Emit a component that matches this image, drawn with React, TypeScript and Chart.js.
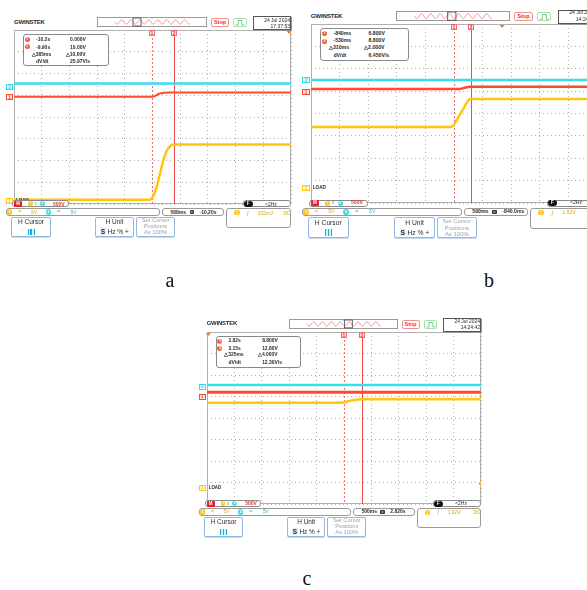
import React, { useEffect, useRef } from "react";
import { Chart, registerables } from "chart.js";

Chart.register(...registerables);

const CYAN = "#38DDEC";
const RED = "#FF4A2C";
const YELLOW = "#FFC50F";
const CURSOR = "#F26B6B";
const CURSOR2 = "#F04A4A";

// ---------- data: x in horizontal divisions (0..10), y in vertical divisions (0..8) ----------
// panel a
const aCyanX = [0, 10];
const aCyanY = [5.54, 5.54];
const aRedX = [0, 4.98, 5.27, 5.63, 10];
const aRedY = [4.93, 4.93, 5.08, 5.13, 5.13];
const aYellowX = [0, 4.9, 5.0, 5.15, 5.27, 5.39, 5.5, 5.57, 5.66, 5.75, 10];
const aYellowY = [0.2, 0.2, 0.3, 0.78, 1.4, 2.01, 2.4, 2.56, 2.68, 2.73, 2.73];
const aCursors = [4.98, 5.78];
const aTimes = ["-10.2s", "-9.90s", "△385ms"];
const aVolts = ["0.000V", "10.00V", "△10.00V"];
const aSlope = "25.97V/s";
const aDate = ["24 Jul 2024", "17:37:53"];
const aPos = "-10.20s";
const aTrig = "332mV";

// panel b
const bCyanX = [0, 10];
const bCyanY = [5.5, 5.5];
const bRedX = [0, 5.22, 5.4, 5.57, 10];
const bRedY = [5.1, 5.1, 5.16, 5.19, 5.19];
const bYellowX = [0, 4.88, 4.98, 5.1, 5.22, 5.34, 5.44, 5.51, 5.6, 10];
const bYellowY = [3.4, 3.4, 3.46, 3.71, 3.98, 4.24, 4.47, 4.6, 4.65, 4.65];
const bCursors = [5.01, 5.61];
const bTimes = ["-840ms", "-530ms", "△310ms"];
const bVolts = ["6.800V", "8.800V", "△2.000V"];
const bSlope = "6.450V/s";
const bDate = ["24 Jul 2024", "14:24:42"];
const bPos = "-840.0ms";
const bTrig = "1.92V";

// panel c
const cCyanX = [0, 10];
const cCyanY = [5.53, 5.53];
const cRedX = [0, 10];
const cRedY = [5.2, 5.2];
const cYellowX = [0, 4.9, 5.1, 5.3, 5.5, 5.66, 10];
const cYellowY = [4.71, 4.71, 4.76, 4.82, 4.86, 4.87, 4.87];
const cCursors = [4.99, 5.66];
const cTimes = ["2.82s", "3.15s", "△325ms"];
const cVolts = ["8.800V", "12.80V", "△4.000V"];
const cSlope = "12.30V/s";
const cDate = ["24 Jul 2024", "14:24:42"];
const cPos = "2.820s";
const cTrig = "1.92V";

type Trace = { xs: number[]; ys: number[]; color: string; width: number };
type Cfg = {
  gl: number; gt: number; s: number;
  traces: Trace[]; cursors: number[];
  trigX: number; trigLevel?: number;
  cyanLabel: number; redLabel: number; ground: number;
  times: string[]; volts: string[]; slope: string;
  date: string[]; pos: string; trig: string;
  sq: number;
};

const decoPlugin: any = {
  id: "scopeDeco",
  beforeDatasetsDraw(chart: any, _a: any, opts: any) {
    const { ctx, chartArea: a, scales } = chart;
    const x = scales.x;
    ctx.save();
    ctx.strokeStyle = "#B0B0B0";
    ctx.lineWidth = 1;
    ctx.strokeRect(Math.round(a.left) + 0.5, Math.round(a.top) + 0.5, Math.round(a.right - a.left) - 1, Math.round(a.bottom - a.top) - 1);
    (opts.cursors || []).forEach((c: number, i: number) => {
      const px = Math.round(x.getPixelForValue(c)) + 0.5;
      ctx.beginPath();
      ctx.setLineDash(i === 0 ? [2, 2] : []);
      ctx.strokeStyle = i === 0 ? CURSOR : CURSOR2;
      ctx.lineWidth = 1;
      ctx.moveTo(px, a.top);
      ctx.lineTo(px, a.bottom);
      ctx.stroke();
    });
    ctx.restore();
  },
  afterDatasetsDraw(chart: any, _a: any, opts: any) {
    const { ctx, chartArea: a, scales } = chart;
    const x = scales.x;
    const y = scales.y;
    ctx.save();
    (opts.cursors || []).forEach((c: number, i: number) => {
      const px = Math.round(x.getPixelForValue(c));
      ctx.fillStyle = "#FFE6E0";
      ctx.fillRect(px - 3, a.top, 6, 6);
      ctx.strokeStyle = CURSOR;
      ctx.lineWidth = 1;
      ctx.strokeRect(px - 2.5, a.top + 0.5, 5, 5);
      ctx.fillStyle = "#E83020";
      ctx.font = "bold 5px 'Liberation Sans'";
      ctx.textAlign = "center";
      ctx.textBaseline = "middle";
      ctx.fillText(String(i + 1), px, a.top + 3.3);
    });
    if (opts.trigX !== undefined) {
      const px = x.getPixelForValue(opts.trigX);
      ctx.fillStyle = "#FF7A10";
      ctx.beginPath();
      ctx.moveTo(px - 2.5, a.top + 1);
      ctx.lineTo(px + 2.5, a.top + 1);
      ctx.lineTo(px, a.top + 4);
      ctx.closePath();
      ctx.fill();
    }
    if (opts.trigLevel !== undefined) {
      const py = y.getPixelForValue(opts.trigLevel);
      ctx.fillStyle = YELLOW;
      ctx.beginPath();
      ctx.moveTo(a.right, py - 2.5);
      ctx.lineTo(a.right, py + 2.5);
      ctx.lineTo(a.right - 3, py);
      ctx.closePath();
      ctx.fill();
    }
    ctx.restore();
  },
};

function Panel({ c }: { c: Cfg }) {
  const ref = useRef<HTMLCanvasElement | null>(null);
  const PAD = 2;
  const s = c.s;
  const W = Math.round(277 * s);
  const H = Math.round(173.6 * s);

  useEffect(() => {
    const datasets = c.traces.map((t) => ({
      data: t.xs.map((x, i) => ({ x, y: t.ys[i] })),
      borderColor: t.color,
      borderWidth: t.width,
      pointRadius: 0,
      fill: false,
      tension: 0.4,
      cubicInterpolationMode: "monotone" as const,
    }));
    const axis = (max: number) => ({
      type: "linear" as const,
      min: 0,
      max,
      ticks: { display: false, stepSize: 1, autoSkip: false },
      grid: { color: "#AFAFAF", drawTicks: false, lineWidth: 1 },
      border: { display: false, dash: [1, 3] },
    });
    const chart = new Chart(ref.current as HTMLCanvasElement, {
      type: "line",
      data: { datasets } as any,
      options: {
        animation: false,
        responsive: false,
        maintainAspectRatio: false,
        layout: { padding: PAD },
        plugins: {
          legend: { display: false },
          tooltip: { enabled: false },
          scopeDeco: { cursors: c.cursors, trigX: c.trigX, trigLevel: c.trigLevel },
        } as any,
        scales: { x: axis(10), y: axis(8) } as any,
      },
      plugins: [decoPlugin],
    });
    return () => chart.destroy();
  }, []);

  const X = (r: number) => c.gl + r * s;
  const Y = (r: number) => c.gt + r * s;
  const ry = (v: number) => (8 - v) * 21.7;
  const box = (x0: number, x1: number, y0: number, y1: number, extra: React.CSSProperties = {}): React.CSSProperties => ({
    position: "absolute", left: X(x0), top: Y(y0), width: (x1 - x0) * s, height: (y1 - y0) * s,
    boxSizing: "border-box", ...extra,
  });
  const txt = (x: number, yc: number, size: number, extra: React.CSSProperties = {}): React.CSSProperties => ({
    position: "absolute", left: X(x), top: Y(yc), transform: "translateY(-50%)", fontSize: size * s,
    lineHeight: 1, whiteSpace: "nowrap", ...extra,
  });
  const badge = (key: string, x: number, yc: number, d: number, bg: string, fg: string, t: string) => (
    <div key={key} style={{
      position: "absolute", left: X(x - d / 2), top: Y(yc - d / 2), width: d * s, height: d * s,
      borderRadius: "50%", background: bg, color: fg, fontSize: (d - 1.5) * s, lineHeight: `${d * s}px`,
      textAlign: "center", fontWeight: 700,
    }}>{t}</div>
  );
  const tag = (key: string, yc: number, col: string, bg: string, t: string) => (
    <div key={key} style={{
      ...box(-8, -1, yc - 3, yc + 3),
      border: `1px solid ${col}`, background: bg, color: col, fontSize: 5 * s, lineHeight: `${4 * s}px`,
      textAlign: "center", fontWeight: 700,
    }}>{t}</div>
  );

  // decorative zigzag in the top memory bar
  let wave = "";
  for (let k = 0; k <= 150; k++) {
    const xx = 18 + k * 0.5;
    const yy = 5 + 2.2 * Math.sin((k * 0.5 * 2 * Math.PI) / 9);
    wave += `${k === 0 ? "M" : "L"}${xx.toFixed(2)},${yy.toFixed(2)} `;
  }

  const dark = "#2A2A2A";
  const yTxt = "#E0A800";
  const cTxt = "#2BB8DA";
  const btn: React.CSSProperties = { border: "1px solid #93B9E2", borderRadius: 2 * s, background: "#fff", boxShadow: "0 1px 0 #C8DAF0" };

  return (
    <>
      <canvas
        ref={ref}
        width={W + 2 * PAD}
        height={H + 2 * PAD}
        style={{ position: "absolute", left: Math.round(c.gl - PAD), top: Math.round(c.gt - PAD), width: W + 2 * PAD, height: H + 2 * PAD }}
      />
      {/* top bar */}
      <div style={txt(0, -8, 6, { fontWeight: 800, color: dark, letterSpacing: -0.2 * s })}>GWINSTEK</div>
      <div style={box(83, 193, -13, -3, { border: "1px solid #9A9A9A", background: "#fff" })}>
        <svg width={110 * s} height={10 * s} viewBox="0 0 110 10" style={{ position: "absolute", left: -1, top: -1 }}>
          <path d={wave} fill="none" stroke="#F07A70" strokeWidth={0.8} />
          <rect x={c.sq - 83} y={1} width={8} height={8} fill="none" stroke="#555" strokeWidth={0.9} />
          <circle cx={55} cy={0.8} r={0.9} fill={CYAN} />
        </svg>
      </div>
      <div style={box(197, 215, -12, -3, { border: "1px solid #F09090", borderRadius: 2 * s, color: "#E8322A", fontSize: 5.5 * s, fontWeight: 700, lineHeight: `${7 * s}px`, textAlign: "center" })}>Stop</div>
      <div style={box(219, 233, -12, -3, { border: "1px solid #A8DDB0", borderRadius: 2 * s })}>
        <svg width={14 * s} height={9 * s} viewBox="0 0 14 9" style={{ position: "absolute", left: -1, top: -1 }}>
          <path d="M2.5,7 L5,7 L5,2.5 L9,2.5 L9,7 L11.5,7" fill="none" stroke="#58C070" strokeWidth={0.8} />
        </svg>
      </div>
      <div style={box(239, 277, -14, 0, { border: "1px solid #555", boxShadow: "1px 1px 0 #999", background: "#fff" })} />
      <div style={txt(276, -10.3, 5, { color: dark, transform: "translate(-100%,-50%)" })}>{c.date[0]}</div>
      <div style={txt(276, -4.3, 5, { color: dark, transform: "translate(-100%,-50%)" })}>{c.date[1]}</div>

      {/* cursor readout */}
      <div style={box(9, 95, 4, 36, { border: "1px solid #8A8A8A", borderRadius: 3 * s, background: "#fff" })} />
      {badge("m1", 13.3, 9.3, 5, "#F05A3A", "#fff", "1")}
      {badge("m2", 13.3, 16.7, 5, "#F05A3A", "#fff", "2")}
      <div style={txt(22, 9.3, 5, { color: dark, fontWeight: 700 })}>{c.times[0]}</div>
      <div style={txt(56, 9.3, 5, { color: dark, fontWeight: 700 })}>{c.volts[0]}</div>
      <div style={txt(22, 16.7, 5, { color: dark, fontWeight: 700 })}>{c.times[1]}</div>
      <div style={txt(56, 16.7, 5, { color: dark, fontWeight: 700 })}>{c.volts[1]}</div>
      <div style={txt(17.7, 23.5, 5, { color: dark, fontWeight: 700 })}>{c.times[2]}</div>
      <div style={txt(51.7, 23.5, 5, { color: dark, fontWeight: 700 })}>{c.volts[2]}</div>
      <div style={txt(22, 31, 5, { color: dark, fontWeight: 700 })}>dV/dt</div>
      <div style={txt(56, 31, 5, { color: dark, fontWeight: 700 })}>{c.slope}</div>

      {/* channel tags on the left */}
      {tag("t2", ry(c.cyanLabel), CYAN, "#E4FBFF", "2")}
      {tag("t1", ry(c.redLabel), RED, "#FFE6E0", "1")}
      {tag("tg", ry(c.ground), YELLOW, "#FFF6CC", "1")}
      <div style={txt(2, ry(c.ground), 4.5, { color: dark, fontWeight: 700 })}>LOAD</div>

      {/* math bar */}
      <div style={box(-2, 55, 170, 177, { border: "1px solid #8A8A8A", borderRadius: 3 * s, background: "#fff" })} />
      <div style={box(0, 8, 170.5, 176.5, { background: "#E8202A", borderRadius: 1 * s, color: "#fff", fontSize: 4.5 * s, fontWeight: 700, lineHeight: `${6 * s}px`, textAlign: "center" })}>M</div>
      {badge("mb1", 16.5, 173.5, 5, YELLOW, "#fff", "1")}
      <div style={txt(20.5, 173.5, 4.5, { color: "#888" })}>x</div>
      {badge("mb2", 28.5, 173.5, 5, CYAN, "#fff", "2")}
      <div style={txt(39, 173.5, 5, { color: "#E8322A", fontWeight: 700 })}>500V</div>

      {/* frequency box */}
      <div style={box(229, 277, 170, 177, { border: "1px solid #8A8A8A", borderRadius: 3 * s, background: "#fff" })} />
      <div style={box(229.5, 238.5, 170.5, 176.5, { background: "#111", borderRadius: 3 * s, color: "#fff", fontSize: 4.5 * s, fontWeight: 700, lineHeight: `${6 * s}px`, textAlign: "center" })}>F</div>
      <div style={txt(251, 173.5, 5, { color: dark })}>{"<2Hz"}</div>

      {/* channel bar */}
      <div style={box(-8, 146, 178, 186, { border: "1px solid #9A9A9A", borderRadius: 3 * s, background: "#fff" })} />
      {badge("cb1", -4.5, 182, 5.5, YELLOW, "#fff", "1")}
      <div style={txt(4, 182, 5.5, { color: yTxt, fontWeight: 700 })}>=</div>
      <div style={txt(17, 182, 5, { color: yTxt })}>5V</div>
      {badge("cb2", 34.3, 182, 5.5, CYAN, "#fff", "2")}
      <div style={txt(43, 182, 5.5, { color: cTxt, fontWeight: 700 })}>=</div>
      <div style={txt(56.5, 182, 5, { color: cTxt })}>5V</div>

      {/* timebase box */}
      <div style={box(148, 210, 178, 186, { border: "1px solid #9A9A9A", borderRadius: 3 * s, background: "#fff" })} />
      <div style={txt(156.5, 182, 5, { color: dark, fontWeight: 700 })}>500ms</div>
      <div style={box(175.5, 180, 179.8, 184.2, { background: "#333", borderRadius: 1 * s, color: "#fff", fontSize: 4 * s, lineHeight: `${4.4 * s}px`, textAlign: "center" })}>±</div>
      <div style={txt(185.5, 182, 5, { color: dark, fontWeight: 700 })}>{c.pos}</div>

      {/* trigger box */}
      <div style={box(212, 277, 178, 198, { border: "1px solid #9A9A9A", borderRadius: 3 * s, background: "#fff" })} />
      {badge("tr1", 223, 182.5, 5.5, YELLOW, "#fff", "1")}
      <div style={txt(233, 182.5, 6, { color: yTxt, fontStyle: "italic", fontFamily: '"Liberation Serif", serif' })}>f</div>
      <div style={txt(243.5, 182.5, 5, { color: yTxt })}>{c.trig}</div>
      <div style={txt(269.5, 182.5, 5, { color: yTxt })}>DC</div>

      {/* soft-key buttons */}
      <div style={box(-3, 37, 187, 207, btn)} />
      <div style={txt(17, 192.3, 6.5, { color: dark, transform: "translate(-50%,-50%)" })}>H Cursor</div>
      <div style={box(13.5, 20.5, 198.5, 205, { background: "#CFF3FB", borderLeft: `${1.2 * s}px solid #1AA8D8`, borderRight: `${1.2 * s}px solid #1AA8D8` })}>
        <div style={{ position: "absolute", left: "50%", top: 0, bottom: 0, width: 1.2 * s, marginLeft: -0.6 * s, background: "#1AA8D8" }} />
      </div>
      <div style={box(81, 120, 187, 207, btn)} />
      <div style={txt(100.5, 192.3, 6.5, { color: dark, transform: "translate(-50%,-50%)" })}>H Unit</div>
      <div style={txt(100.5, 202, 6.5, { color: dark, transform: "translate(-50%,-50%)" })}>
        <b style={{ background: "#DCEAF8", padding: `0 ${0.6 * s}px` }}>S</b> Hz % +
      </div>
      <div style={box(122, 161, 187, 207, btn)} />
      <div style={txt(141.5, 191, 5.8, { color: "#9AA4AE", transform: "translate(-50%,-50%)" })}>Set Cursor</div>
      <div style={txt(141.5, 197, 5.8, { color: "#9AA4AE", transform: "translate(-50%,-50%)" })}>Positions</div>
      <div style={txt(141.5, 203, 5.8, { color: "#9AA4AE", transform: "translate(-50%,-50%)" })}>As 100%</div>
    </>
  );
}

const cfgA: Cfg = {
  gl: 14, gt: 30, s: 1,
  traces: [
    { xs: aCyanX, ys: aCyanY, color: CYAN, width: 2.5 },
    { xs: aRedX, ys: aRedY, color: RED, width: 2 },
    { xs: aYellowX, ys: aYellowY, color: YELLOW, width: 2.5 },
  ],
  cursors: aCursors, trigX: 9.93,
  cyanLabel: 5.36, redLabel: 4.91, ground: 0.12,
  times: aTimes, volts: aVolts, slope: aSlope, date: aDate, pos: aPos, trig: aTrig, sq: 119,
};

const cfgB: Cfg = {
  gl: 310.7, gt: 24, s: 1.033,
  traces: [
    { xs: bCyanX, ys: bCyanY, color: CYAN, width: 2.5 },
    { xs: bRedX, ys: bRedY, color: RED, width: 2.5 },
    { xs: bYellowX, ys: bYellowY, color: YELLOW, width: 2.5 },
  ],
  cursors: bCursors, trigX: 6.68,
  cyanLabel: 5.5, redLabel: 4.95, ground: 0.68,
  times: bTimes, volts: bVolts, slope: bSlope, date: bDate, pos: bPos, trig: bTrig, sq: 133,
};

const cfgC: Cfg = {
  gl: 206.7, gt: 332, s: 0.99,
  traces: [
    { xs: cCyanX, ys: cCyanY, color: CYAN, width: 2.5 },
    { xs: cRedX, ys: cRedY, color: RED, width: 3 },
    { xs: cYellowX, ys: cYellowY, color: YELLOW, width: 2.5 },
  ],
  cursors: cCursors, trigX: 0.05, trigLevel: 0.93,
  cyanLabel: 5.46, redLabel: 4.99, ground: 0.74,
  times: cTimes, volts: cVolts, slope: cSlope, date: cDate, pos: cPos, trig: cTrig, sq: 139,
};

const letter = (x: number, y: number): React.CSSProperties => ({
  position: "absolute", left: x, top: y, transform: "translate(-50%,-50%)",
  fontFamily: '"Liberation Serif", "Times New Roman", serif', fontSize: 20, color: "#111", lineHeight: 1,
});

export default function App() {
  return (
    <div style={{ position: "fixed", left: 0, top: 0, width: 587, height: 590, background: "#fff", overflow: "hidden", fontFamily: '"Liberation Sans", Arial, sans-serif' }}>
      <Panel c={cfgA} />
      <Panel c={cfgB} />
      <Panel c={cfgC} />
      <div style={letter(170, 280)}>a</div>
      <div style={letter(489, 280)}>b</div>
      <div style={letter(307, 578)}>c</div>
    </div>
  );
}
